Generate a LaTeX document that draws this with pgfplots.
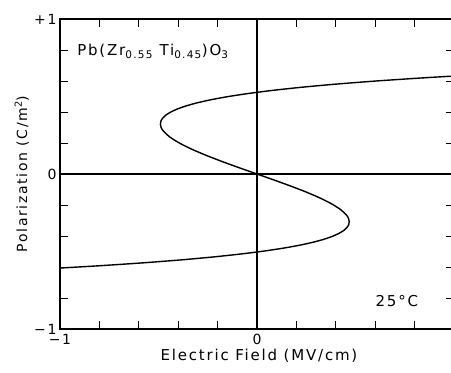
\documentclass[border=0pt]{standalone}
\usepackage{fontspec}
\setmainfont{DejaVu Sans}[LetterSpace=12]
\usepackage{pgfplots}
\pgfplotsset{compat=1.18}
\begin{document}
\begin{tikzpicture}
\begin{axis}[
  at={(0,0)}, anchor=south west,
  scale only axis, width=394pt, height=310pt,
  xmin=-1, xmax=1, ymin=-1, ymax=1,
  axis line style={line width=1.3pt},
  tick align=inside, major tick length=8pt,
  every tick/.style={black, line width=1pt},
  xtick={-1,-0.8,-0.6,-0.4,-0.2,0,0.2,0.4,0.6,0.8,1},
  xticklabels={−1,,,,,0,,,,,1},
  ytick={-1,-0.8,-0.6,-0.4,-0.2,0,0.2,0.4,0.6,0.8,1},
  yticklabels={−1,,,,,0,,,,,+1},
  ticklabel style={font=\fontsize{14}{16}\selectfont},
  xticklabel style={yshift=-2pt},
  xlabel={Electric Field (MV/cm)},
  ylabel={Polarization (C/m\textsuperscript{2})},
  xlabel style={font=\fontsize{15}{17}\selectfont, at={(axis description cs:0.505,-0.086)}, anchor=center},
  ylabel style={font=\fontsize{14}{16}\selectfont, at={(axis description cs:-0.097,0.5)}, anchor=center},
  clip=true,
]
\addplot[black, line width=1.1pt] coordinates {(-1,0) (1,0)};
\addplot[black, line width=1.1pt] coordinates {(0,-1) (0,1)};
\addplot[black, line width=1.4pt, smooth, tension=0.4] coordinates {
 (1.0,0.632) (0.840,0.62) (0.6039,0.60) (0.4017,0.58) (0.2292,0.56) (0.0829,0.54)
 (-0.0407,0.52) (-0.1444,0.50) (-0.2304,0.48) (-0.3010,0.46) (-0.3580,0.44)
 (-0.4031,0.42) (-0.4375,0.40) (-0.4625,0.38) (-0.4790,0.36) (-0.4881,0.34)
 (-0.4903,0.32) (-0.4865,0.30) (-0.4771,0.28) (-0.4439,0.24) (-0.3942,0.20)
 (-0.3312,0.16) (-0.2576,0.12) (-0.1761,0.08) (-0.0894,0.04) (0,0)
 (0.0854,-0.0382) (0.1682,-0.0764) (0.2460,-0.1146) (0.3163,-0.1528)
 (0.3765,-0.191) (0.4239,-0.2292) (0.4556,-0.2674) (0.4646,-0.2865)
 (0.4682,-0.3056) (0.4661,-0.3247) (0.4574,-0.3438) (0.4417,-0.3629)
 (0.4178,-0.382) (0.3850,-0.4011) (0.3419,-0.4202) (0.2875,-0.4393)
 (0.2200,-0.4584) (0.1379,-0.4775) (0.0389,-0.4966) (-0.0792,-0.5157)
 (-0.2189,-0.5348) (-0.3836,-0.5539) (-0.5767,-0.573) (-0.8022,-0.5921)
 (-1,-0.6067)
};
\node[anchor=west, font=\fontsize{15}{17}\selectfont] at (axis cs:-0.93,0.79) {Pb(Zr\textsubscript{0.55} Ti\textsubscript{0.45})O\textsubscript{3}};
\node[font=\fontsize{15}{17}\selectfont] at (axis cs:0.71,-0.82) {25°C};
\end{axis}
\pgfresetboundingbox
\path (-60pt,-44pt) rectangle (391pt,329pt);
\end{tikzpicture}
\end{document}
